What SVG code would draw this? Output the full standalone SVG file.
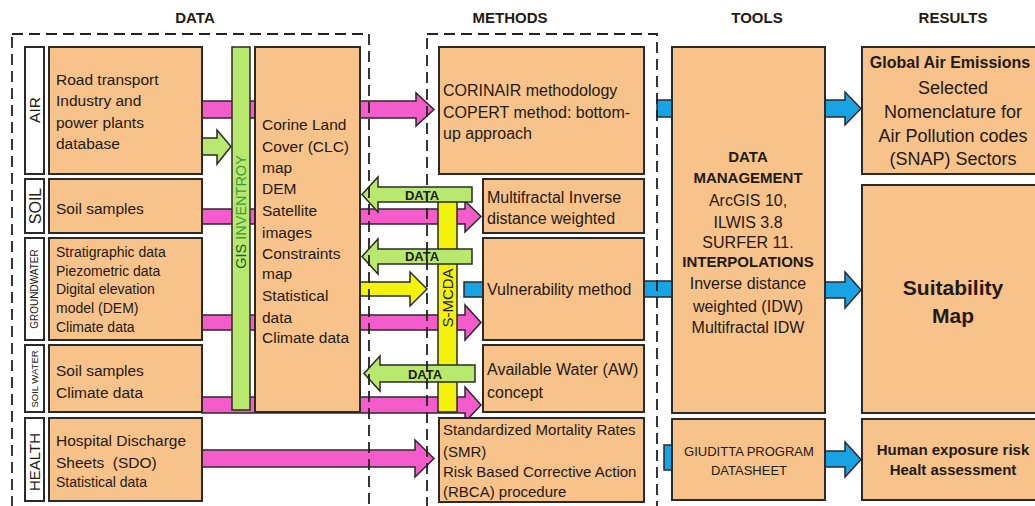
<svg xmlns="http://www.w3.org/2000/svg" width="1035" height="506" viewBox="0 0 1035 506">
<style>
text{font-family:"Liberation Sans",Arial,sans-serif;fill:#231a12}
.hd{font-size:15px;font-weight:bold;text-anchor:middle}
.box{fill:#F8C28B;stroke:#2a2a2a;stroke-width:2}
.lab{fill:#fff;stroke:#2a2a2a;stroke-width:2}
.pink{fill:#F45BCB;stroke:#2a2a2a;stroke-width:1.5;stroke-linejoin:miter}
.green{fill:#B8E86E;stroke:#2a2a2a;stroke-width:1.5}
.yellow{fill:#F2F20A;stroke:#2a2a2a;stroke-width:1.5}
.blue{fill:#18A4E4;stroke:#2a2a2a;stroke-width:1.5}
.dash{fill:none;stroke:#222;stroke-width:1.8;stroke-dasharray:11 6}
.t{font-size:15.5px}
.s{font-size:14px}
.m{font-size:16px}
.c{text-anchor:middle}
.b{font-weight:bold}
.da{font-size:13px;font-weight:bold;text-anchor:middle}
</style>

<g id="headers">
<text class="hd" x="195" y="23.4">DATA</text>
<text class="hd" x="510" y="23.4">METHODS</text>
<text class="hd" x="757" y="23.4">TOOLS</text>
<text class="hd" x="953" y="23.4">RESULTS</text>
</g>

<g id="connectors">
<polygon class="pink" points="202,101 416,101 416,93 434,109.5 416,126 416,118 202,118"/>
<polygon class="pink" points="202,209 465,209 465,201 481,216.5 465,232 465,224 202,224"/>
<polygon class="pink" points="202,315 465,315 465,305 481,322.5 465,340 465,330 202,330"/>
<polygon class="pink" points="202,397 465,397 465,387 481,405 465,422 465,413 202,413"/>
<polygon class="pink" points="202,450 415,450 415,440 434,458.5 415,477 415,467 202,467"/>
<polygon class="green" points="202,138 217,138 217,130 231,146.5 217,164 217,155 202,155"/>
<polygon class="yellow" points="360,282 410,282 410,272 427,289 410,306 410,296 360,296"/>
<rect class="blue" x="657" y="100" width="15" height="17"/>
<rect class="blue" x="464" y="282" width="19" height="15"/>
<rect class="blue" x="644" y="281" width="28" height="16"/>
<rect class="blue" x="664" y="445" width="8" height="25"/>
<polygon class="blue" points="825,100 845,100 845,92 861,108.5 845,125 845,117 825,117"/>
<polygon class="blue" points="825,282 845,282 845,272 861,290 845,308 845,298 825,298"/>
<polygon class="blue" points="825,451 845,451 845,442 861,459.5 845,477 845,467 825,467"/>
</g>

<g id="gis-inventory">
<rect x="232" y="47" width="18" height="363" fill="#B8E86E" stroke="#2a2a2a" stroke-width="1.5"/>
<text transform="translate(246.2,212) rotate(-90)" font-size="14.5" text-anchor="middle"><tspan fill="#1f5a1f">GIS</tspan> <tspan fill="#3d9a3d">INVENTROY</tspan></text>
</g>

<g id="label-air"><rect class="lab" x="25" y="47" width="19" height="127"/><text class="t" transform="translate(40.3,110) rotate(-90)" text-anchor="middle">AIR</text></g>
<g id="label-soil"><rect class="lab" x="25" y="179" width="19" height="54"/><text transform="translate(40.8,206) rotate(-90)" font-size="16" text-anchor="middle">SOIL</text></g>
<g id="label-groundwater"><rect class="lab" x="25" y="238" width="19" height="102"/><text transform="translate(38.2,289) rotate(-90)" font-size="10" text-anchor="middle">GROUNDWATER</text></g>
<g id="label-soilwater"><rect class="lab" x="25" y="345" width="19" height="67"/><text transform="translate(38,379) rotate(-90)" font-size="9.5" text-anchor="middle">SOIL WATER</text></g>
<g id="label-health"><rect class="lab" x="25" y="418" width="19" height="83"/><text transform="translate(40.3,462) rotate(-90)" font-size="15" text-anchor="middle">HEALTH</text></g>

<g id="data-air"><rect class="box" x="49" y="47" width="153" height="127"/>
<text class="t" x="56" y="84.5">Road transport</text>
<text class="t" x="56" y="105.5">Industry and</text>
<text class="t" x="56" y="127.5">power plants</text>
<text class="t" x="56" y="148.5">database</text></g>
<g id="data-soil"><rect class="box" x="49" y="179" width="153" height="54"/>
<text class="t" x="56" y="213.5">Soil samples</text></g>
<g id="data-groundwater"><rect class="box" x="49" y="238" width="153" height="102"/>
<text class="s" x="56" y="257">Stratigraphic data</text>
<text class="s" x="56" y="276">Piezometric data</text>
<text class="s" x="56" y="294">Digital elevation</text>
<text class="s" x="56" y="313">model (DEM)</text>
<text class="s" x="56" y="332">Climate data</text></g>
<g id="data-soilwater"><rect class="box" x="49" y="345" width="153" height="67"/>
<text class="t" x="56" y="375.5">Soil samples</text>
<text class="t" x="56" y="397.5">Climate data</text></g>
<g id="data-health"><rect class="box" x="49" y="418" width="153" height="83"/>
<text class="t" x="56" y="445.5">Hospital Discharge</text>
<text class="t" x="56" y="467.5" xml:space="preserve">Sheets  (SDO)</text>
<text class="s" x="56" y="487">Statistical data</text></g>

<g id="corine"><rect class="box" x="255" y="47" width="105" height="365"/>
<text class="t" x="262" y="129.5">Corine Land</text>
<text class="t" x="262" y="151.5">Cover (CLC)</text>
<text class="t" x="262" y="172.5">map</text>
<text class="t" x="262" y="193.5">DEM</text>
<text class="t" x="262" y="215.5">Satellite</text>
<text class="t" x="262" y="237.5">images</text>
<text class="t" x="262" y="258.5">Constraints</text>
<text class="t" x="262" y="278.5">map</text>
<text class="t" x="262" y="300.5">Statistical</text>
<text class="t" x="262" y="322.5">data</text>
<text class="t" x="262" y="342.5">Climate data</text></g>

<g id="s-mcda">
<rect x="438" y="200" width="19" height="212" fill="#F2F20A" stroke="#2a2a2a" stroke-width="1.5"/>
<text transform="translate(453,298) rotate(-90)" font-size="15" text-anchor="middle">S-MCDA</text>
</g>

<g id="data-arrows">
<polygon class="green" points="472,187 378,187 378,177 362,194.5 378,212 378,202 472,202"/>
<text class="da" x="422" y="199.5">DATA</text>
<polygon class="green" points="472,249 378,249 378,239 362,256.5 378,274 378,264 472,264"/>
<text class="da" x="422" y="261">DATA</text>
<polygon class="green" points="475,365 380,365 380,356 364,373.5 380,391 380,382 475,382"/>
<text class="da" x="425" y="378.5">DATA</text>
</g>

<g id="method-corinair"><rect class="box" x="439" y="47" width="205" height="127"/>
<text class="m" x="443" y="95.8">CORINAIR methodology</text>
<text class="m" x="443" y="117.8">COPERT method: bottom-</text>
<text class="m" x="443" y="138.8">up approach</text></g>
<g id="method-multifractal"><rect class="box" x="483" y="179" width="161" height="54"/>
<text class="m" x="487" y="202.8">Multifractal Inverse</text>
<text class="m" x="487" y="223.8">distance weighted</text></g>
<g id="method-vulnerability"><rect class="box" x="483" y="238" width="161" height="102"/>
<text class="m" x="487" y="294.8">Vulnerability method</text></g>
<g id="method-aw"><rect class="box" x="483" y="345" width="161" height="67"/>
<text class="m" x="487" y="374.8">Available Water (AW)</text>
<text class="m" x="487" y="397.8">concept</text></g>
<g id="method-smr"><rect class="box" x="439" y="418" width="205" height="84"/>
<text x="443" y="435.4" font-size="15">Standardized Mortality Rates</text>
<text x="443" y="457.4" font-size="15">(SMR)</text>
<text x="443" y="477.4" font-size="15">Risk Based Corrective Action</text>
<text x="443" y="497.4" font-size="15">(RBCA) procedure</text></g>

<g id="tool-datamanagement"><rect class="box" x="672" y="47" width="153" height="366"/>
<text class="c b" x="748" y="162.4" font-size="15">DATA</text>
<text class="c b" x="748" y="183.4" font-size="15">MANAGEMENT</text>
<text class="m c" x="748" y="205.8">ArcGIS 10,</text>
<text class="m c" x="748" y="227.8">ILWIS 3.8</text>
<text class="m c" x="748" y="247.8">SURFER 11.</text>
<text class="c b" x="748" y="267.4" font-size="15">INTERPOLATIONS</text>
<text class="m c" x="748" y="288.8">Inverse distance</text>
<text class="m c" x="748" y="311.8">weighted (IDW)</text>
<text class="m c" x="748" y="332.8">Multifractal IDW</text></g>
<g id="tool-giuditta"><rect class="box" x="672" y="419" width="153" height="81"/>
<text class="c" x="749" y="455.7" font-size="13">GIUDITTA PROGRAM</text>
<text class="c" x="749" y="474.7" font-size="13">DATASHEET</text></g>

<g id="result-air"><rect class="box" x="862" y="47" width="185" height="127"/>
<text class="c b" x="950" y="68" font-size="16">Global Air Emissions</text>
<text class="c" x="953" y="93.5" font-size="18">Selected</text>
<text class="c" x="953" y="117.5" font-size="18">Nomenclature for</text>
<text class="c" x="953" y="141.5" font-size="18">Air Pollution codes</text>
<text class="c" x="953" y="165" font-size="18">(SNAP) Sectors</text></g>
<g id="result-suitability"><rect class="box" x="862" y="185" width="185" height="228"/>
<text class="c b" x="953" y="294.5" font-size="21">Suitability</text>
<text class="c b" x="953" y="322.5" font-size="21">Map</text></g>
<g id="result-health"><rect class="box" x="862" y="419" width="185" height="81"/>
<text class="c b" x="953" y="455.4" font-size="15">Human exposure risk</text>
<text class="c b" x="953" y="475.4" font-size="15">Healt assessment</text></g>

<g id="frames">
<rect class="dash" x="12" y="34" width="357" height="500"/>
<rect class="dash" x="427" y="34" width="230" height="500"/>
</g>
</svg>
